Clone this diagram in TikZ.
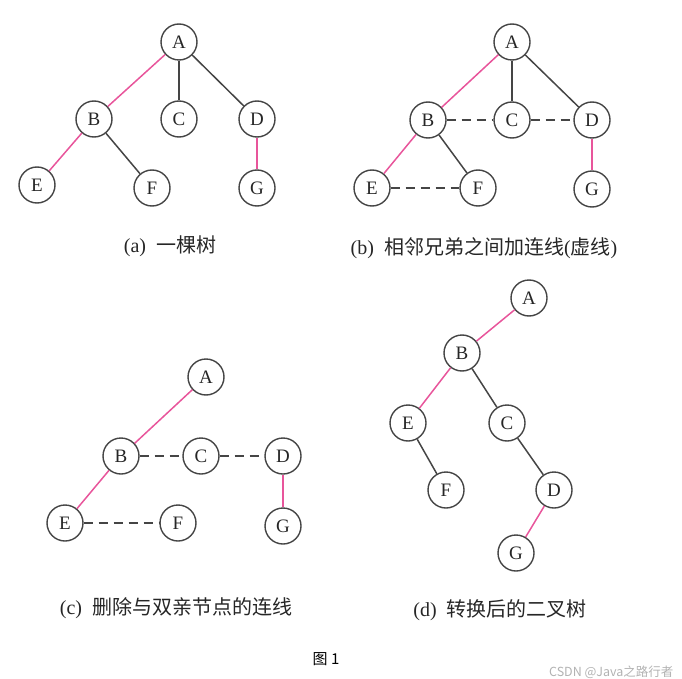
\documentclass[tikz,border=0pt]{standalone}
\usepackage{fontspec}
\setmainfont{Liberation Serif}
\newfontfamily\cjk{Noto Sans CJK SC}
\usetikzlibrary{positioning}

\definecolor{edgegray}{HTML}{454545}
\definecolor{edgepink}{HTML}{E8559B}

\begin{document}
\begin{tikzpicture}[
					x=1pt, y=-1pt,
					vertex/.style={circle, draw=edgegray, line width=1.4pt, minimum size=36pt, inner sep=0pt, font=\fontsize{19}{19}\selectfont, text=black!85},
					link/.style={edgegray, line width=1.5pt},
					pinklink/.style={edgepink, line width=1.5pt},
					sibling/.style={edgegray, line width=1.5pt, dash pattern=on 9pt off 6pt},
					caption/.style={font=\fontsize{20}{20}\selectfont, text=black!85}
					]
					\useasboundingbox (0,0) rectangle (682,679);
					
					% (a) a tree
					\node (aA) [vertex] at (179,42) {A};
					\node (aB) [vertex] at (94,119) {B};
					\node (aC) [vertex] at (179,119) {C};
					\node (aD) [vertex] at (257,119) {D};
					\node (aE) [vertex] at (37,185) {E};
					\node (aF) [vertex] at (152,188) {F};
					\node (aG) [vertex] at (257,188) {G};
					\node (acap) [caption] at (170,246) {(a)\hspace{0.5em}{\cjk 一棵树}};
					
					\draw [pinklink] (aA) -- (aB);
					\draw [link] (aA) -- (aC);
					\draw [link] (aA) -- (aD);
					\draw [pinklink] (aB) -- (aE);
					\draw [link] (aB) -- (aF);
					\draw [pinklink] (aD) -- (aG);
					
					% (b) siblings joined
					\node (bA) [vertex] at (512,42) {A};
					\node (bB) [vertex] at (428,120) {B};
					\node (bC) [vertex] at (512,120) {C};
					\node (bD) [vertex] at (592,120) {D};
					\node (bE) [vertex] at (372,188) {E};
					\node (bF) [vertex] at (478,188) {F};
					\node (bG) [vertex] at (592,189) {G};
					\node (bcap) [caption] at (484,248) {(b)\hspace{0.5em}{\cjk 相邻兄弟之间加连线}({\cjk 虚线})};
					
					\draw [pinklink] (bA) -- (bB);
					\draw [link] (bA) -- (bC);
					\draw [link] (bA) -- (bD);
					\draw [pinklink] (bB) -- (bE);
					\draw [link] (bB) -- (bF);
					\draw [pinklink] (bD) -- (bG);
					\draw [sibling] (bB) -- (bC);
					\draw [sibling] (bC) -- (bD);
					\draw [sibling] (bE) -- (bF);
					
					% (c) parent links removed
					\node (cA) [vertex] at (206,377) {A};
					\node (cB) [vertex] at (121,456) {B};
					\node (cC) [vertex] at (201,456) {C};
					\node (cD) [vertex] at (283,456) {D};
					\node (cE) [vertex] at (65,523) {E};
					\node (cF) [vertex] at (178,523) {F};
					\node (cG) [vertex] at (283,526) {G};
					\node (ccap) [caption] at (176,608) {(c)\hspace{0.5em}{\cjk 删除与双亲节点的连线}};
					
					\draw [pinklink] (cA) -- (cB);
					\draw [pinklink] (cB) -- (cE);
					\draw [pinklink] (cD) -- (cG);
					\draw [sibling] (cB) -- (cC);
					\draw [sibling] (cC) -- (cD);
					\draw [sibling] (cE) -- (cF);
					
					% (d) binary tree
					\node (dA) [vertex] at (529,298) {A};
					\node (dB) [vertex] at (462,353) {B};
					\node (dE) [vertex] at (408,423) {E};
					\node (dC) [vertex] at (507,423) {C};
					\node (dF) [vertex] at (446,490) {F};
					\node (dD) [vertex] at (554,490) {D};
					\node (dG) [vertex] at (516,553) {G};
					\node (dcap) [caption] at (500,610) {(d)\hspace{0.5em}{\cjk 转换后的二叉树}};
					
					\draw [pinklink] (dA) -- (dB);
					\draw [pinklink] (dB) -- (dE);
					\draw [link] (dB) -- (dC);
					\draw [link] (dE) -- (dF);
					\draw [link] (dC) -- (dD);
					\draw [pinklink] (dD) -- (dG);
					
					\node (fig) [font=\cjk\fontsize{15}{15}\selectfont] at (326,659) {图 1};
					\node (mark) [anchor=east, text=black!30, font=\cjk\fontsize{12.5}{12.5}\selectfont] at (677,672) {CSDN @Java之路行者};
				\end{tikzpicture}
\end{document}
